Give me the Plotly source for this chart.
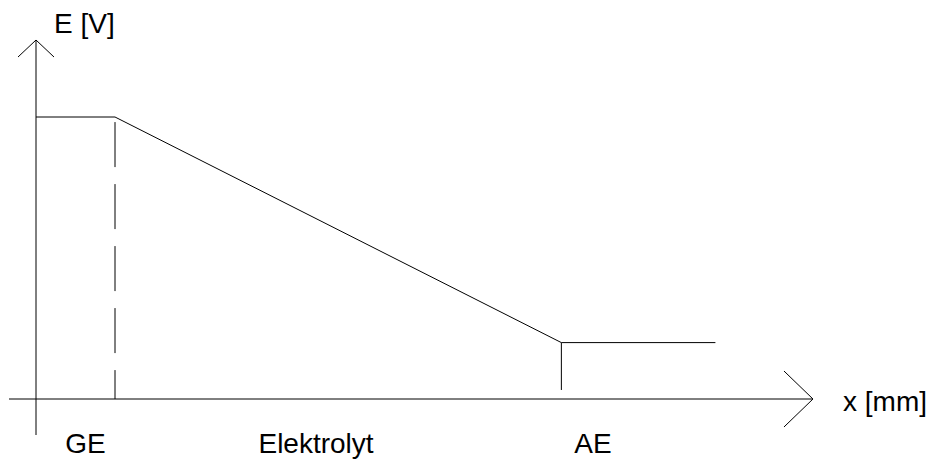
import plotly.graph_objects as go

# ---- data (x in mm, E in V, schematic) ----
profile_x = [0.0, 2.0, 13.3, 17.2]
profile_E = [1.0, 1.0, 0.2, 0.2]

ge_boundary_x = [2.0, 2.0]
ge_boundary_E = [0.982, 0.0]

ae_boundary_x = [13.3, 13.3]
ae_boundary_E = [0.032, 0.2]

region_labels = ["GE", "Elektrolyt", "AE"]
region_x = [1.25, 7.09, 14.1]
region_E = [-0.167, -0.167, -0.167]

x_title = "x [mm]"
y_title = "E [V]"

# ---- axis geometry ----
X_RANGE = [-0.9114, 22.658]
Y_RANGE = [-0.2305, 1.4149]
X_AXIS_START, X_AXIS_END = -0.6835, 19.67
Y_AXIS_START, Y_AXIS_END = -0.1277, 1.273

FONT = "Liberation Sans, Arial, sans-serif"
LINE = dict(color="black", width=1)

fig = go.Figure()
fig.add_trace(go.Scatter(x=profile_x, y=profile_E, mode="lines", line=LINE,
                         hoverinfo="skip", showlegend=False))
fig.add_trace(go.Scatter(x=ge_boundary_x, y=ge_boundary_E, mode="lines",
                         line=dict(color="black", width=1, dash="45px,17px"),
                         hoverinfo="skip", showlegend=False))
fig.add_trace(go.Scatter(x=ae_boundary_x, y=ae_boundary_E, mode="lines", line=LINE,
                         hoverinfo="skip", showlegend=False))
fig.add_trace(go.Scatter(x=region_x, y=region_E, mode="text", text=region_labels,
                         textposition="middle center",
                         textfont=dict(family=FONT, size=28, color="black"),
                         hoverinfo="skip", showlegend=False))

shapes = [
    # axis lines
    dict(type="line", x0=X_AXIS_START, x1=X_AXIS_END, y0=0, y1=0, line=LINE),
    dict(type="line", x0=0, x1=0, y0=Y_AXIS_START, y1=Y_AXIS_END, line=LINE),
]
# arrow heads (pixel-sized)
for dy in (28, -28):
    shapes.append(dict(type="line", xsizemode="pixel", ysizemode="pixel",
                       xanchor=X_AXIS_END, yanchor=0,
                       x0=0, y0=0, x1=-29, y1=dy, line=LINE))
for dx in (18, -18):
    shapes.append(dict(type="line", xsizemode="pixel", ysizemode="pixel",
                       xanchor=0, yanchor=Y_AXIS_END,
                       x0=0, y0=0, x1=dx, y1=-17, line=LINE))

annotations = [
    dict(x=1.24, y=1.333, text=y_title, showarrow=False,
         font=dict(family=FONT, size=28, color="black"),
         xanchor="center", yanchor="middle"),
    dict(x=21.49, y=-0.0106, text=x_title, showarrow=False,
         font=dict(family=FONT, size=28, color="black"),
         xanchor="center", yanchor="middle"),
]

fig.update_layout(
    width=931, height=464,
    margin=dict(l=0, r=0, t=0, b=0),
    plot_bgcolor="white", paper_bgcolor="white",
    xaxis=dict(range=X_RANGE, visible=False, fixedrange=True),
    yaxis=dict(range=Y_RANGE, visible=False, fixedrange=True),
    shapes=shapes, annotations=annotations,
    showlegend=False,
)

fig.write_html("out.html", config={"displayModeBar": False},
               post_script="document.body.style.margin='0';document.body.style.overflow='hidden';")
